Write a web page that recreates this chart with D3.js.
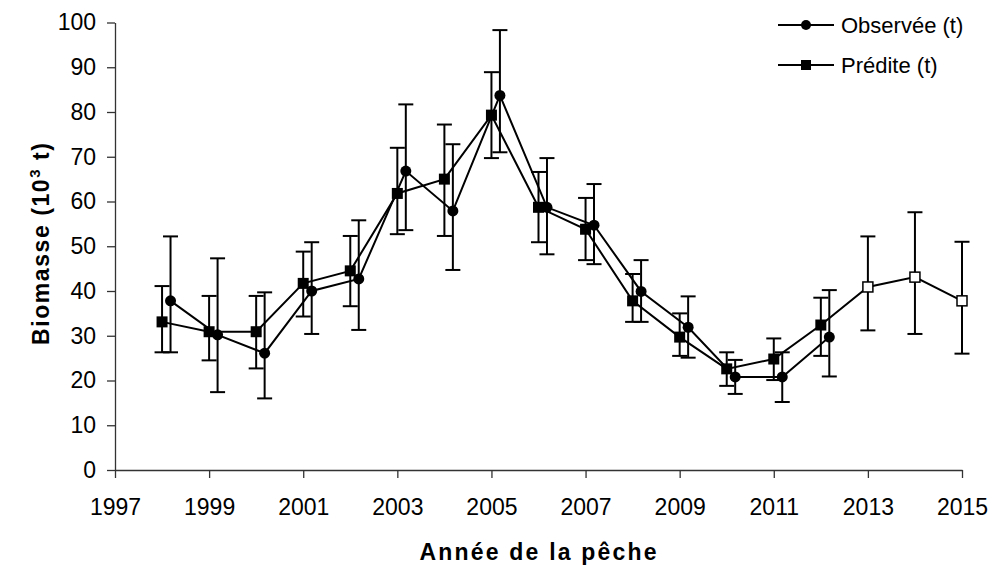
<!DOCTYPE html>
<html>
<head>
<meta charset="utf-8">
<script src="https://cdn.jsdelivr.net/npm/d3@7"></script>
<style>
  body { margin: 0; background: #fff; }
  svg { font-family: Arial, "Liberation Sans", sans-serif; }
  .axis path, .axis line { stroke: #333; stroke-width: 1.3; }
  .axis text { font-size: 23px; fill: #000; }
  .title { font-size: 23px; font-weight: bold; fill: #000; }
  .legend text { font-size: 22px; fill: #000; }
</style>
</head>
<body>
<script>
// Biomasse observée et prédite par année de pêche (10^3 t)
var obsYears = [1998, 1999, 2000, 2001, 2002, 2003, 2004, 2005, 2006, 2007, 2008, 2009, 2010, 2011, 2012];
var obsValue = [37.8, 30.2, 26.1, 40.0, 42.7, 66.8, 57.9, 83.7, 58.7, 54.7, 39.9, 31.9, 20.8, 20.8, 29.7];
var obsLow   = [26.3, 17.4, 16.0, 30.4, 31.3, 53.6, 44.7, 71.0, 48.2, 46.0, 33.1, 25.1, 17.0, 15.2, 20.9];
var obsHigh  = [52.2, 47.3, 39.7, 50.9, 55.8, 81.7, 72.8, 98.3, 69.7, 63.9, 46.9, 38.8, 24.6, 26.3, 40.2];

var predYears = [1998, 1999, 2000, 2001, 2002, 2003, 2004, 2005, 2006, 2007, 2008, 2009, 2010, 2011, 2012, 2013, 2014, 2015];
var predValue = [33.1, 30.9, 30.9, 41.7, 44.5, 61.8, 65.0, 79.3, 58.7, 53.8, 37.8, 29.7, 22.6, 24.8, 32.4, 40.9, 43.1, 37.8];
var predLow   = [26.3, 24.5, 22.7, 34.3, 36.6, 52.7, 52.3, 69.7, 50.9, 46.9, 33.1, 25.5, 18.8, 20.1, 25.5, 31.2, 30.4, 26.0];
var predHigh  = [41.1, 38.9, 38.9, 48.8, 52.3, 72.0, 77.2, 88.9, 66.6, 60.8, 43.8, 35.0, 26.3, 29.4, 38.5, 52.2, 57.6, 51.0];
var forecastFrom = 2013;   // années projetées : carrés vides

var yTicks = [0, 10, 20, 30, 40, 50, 60, 70, 80, 90, 100];
var xTicks = [1997, 1999, 2001, 2003, 2005, 2007, 2009, 2011, 2013, 2015];

var w = 992, h = 566;
var obsShift = 0.18;   // décalage horizontal des observations
var cap = 7.5;         // demi-largeur des barres d'erreur

var svg = d3.select("body").append("svg")
    .attr("width", w)
    .attr("height", h);

var x = d3.scaleLinear().domain([1997, 2015]).range([115, 962]);
var y = d3.scaleLinear().domain([0, 100]).range([470, 22.5]);

// Axes
svg.append("g")
    .attr("class", "axis")
    .attr("transform", "translate(115,0)")
    .call(d3.axisLeft(y).tickValues(yTicks).tickSize(8).tickSizeOuter(0).tickPadding(11));

svg.append("g")
    .attr("class", "axis")
    .attr("transform", "translate(0,470)")
    .call(d3.axisBottom(x).tickValues(xTicks).tickSize(8).tickSizeOuter(0).tickPadding(21)
        .tickFormat(d3.format("d")));

// Axis titles
svg.append("text")
    .attr("class", "title")
    .attr("x", 538)
    .attr("y", 560)
    .attr("text-anchor", "middle")
    .attr("textLength", 237)
    .attr("lengthAdjust", "spacing")
    .text("Année de la pêche");

var yTitle = svg.append("text")
    .attr("class", "title")
    .attr("transform", "translate(49,244) rotate(-90)")
    .attr("text-anchor", "middle")
    .attr("textLength", 202)
    .attr("lengthAdjust", "spacing");
yTitle.append("tspan").text("Biomasse (10");
yTitle.append("tspan").attr("dy", -9).style("font-size", "15px").text("3");
yTitle.append("tspan").attr("dy", 9).text(" t)");

function drawSeries(years, vals, lows, highs, shift) {
    var g = svg.append("g");
    years.forEach(function(yr, i) {
        var cx = x(yr + shift);
        g.append("line")
            .attr("x1", cx).attr("x2", cx)
            .attr("y1", y(lows[i])).attr("y2", y(highs[i]))
            .attr("stroke", "#000").attr("stroke-width", 2);
        [lows[i], highs[i]].forEach(function(v) {
            g.append("line")
                .attr("x1", cx - cap).attr("x2", cx + cap)
                .attr("y1", y(v)).attr("y2", y(v))
                .attr("stroke", "#000").attr("stroke-width", 2);
        });
    });
    var line = d3.line()
        .x(function(d, i) { return x(years[i] + shift); })
        .y(function(d) { return y(d); });
    g.append("path")
        .datum(vals)
        .attr("d", line)
        .attr("fill", "none")
        .attr("stroke", "#000")
        .attr("stroke-width", 2);
    return g;
}

// Prédite (carrés)
var gPred = drawSeries(predYears, predValue, predLow, predHigh, 0);
predYears.forEach(function(yr, i) {
    var open = yr >= forecastFrom;
    var s = open ? 10 : 11;
    gPred.append("rect")
        .attr("x", x(yr) - s / 2)
        .attr("y", y(predValue[i]) - s / 2)
        .attr("width", s)
        .attr("height", s)
        .attr("fill", open ? "#fff" : "#000")
        .attr("stroke", "#000")
        .attr("stroke-width", open ? 1.5 : 0);
});

// Observée (cercles)
var gObs = drawSeries(obsYears, obsValue, obsLow, obsHigh, obsShift);
obsYears.forEach(function(yr, i) {
    gObs.append("circle")
        .attr("cx", x(yr + obsShift))
        .attr("cy", y(obsValue[i]))
        .attr("r", 5.5)
        .attr("fill", "#000");
});

// Legend
var legend = svg.append("g").attr("class", "legend");
var legendItems = ["Observée (t)", "Prédite (t)"];
legendItems.forEach(function(name, i) {
    var ly = 25 + i * 40;
    legend.append("line")
        .attr("x1", 778).attr("x2", 834)
        .attr("y1", ly).attr("y2", ly)
        .attr("stroke", "#000").attr("stroke-width", 2);
    if (i === 0) {
        legend.append("circle").attr("cx", 806).attr("cy", ly).attr("r", 5).attr("fill", "#000");
    } else {
        legend.append("rect").attr("x", 801).attr("y", ly - 5).attr("width", 10).attr("height", 10).attr("fill", "#000");
    }
    legend.append("text")
        .attr("x", 841)
        .attr("y", ly)
        .attr("dy", "0.35em")
        .text(name);
});
</script>
</body>
</html>
